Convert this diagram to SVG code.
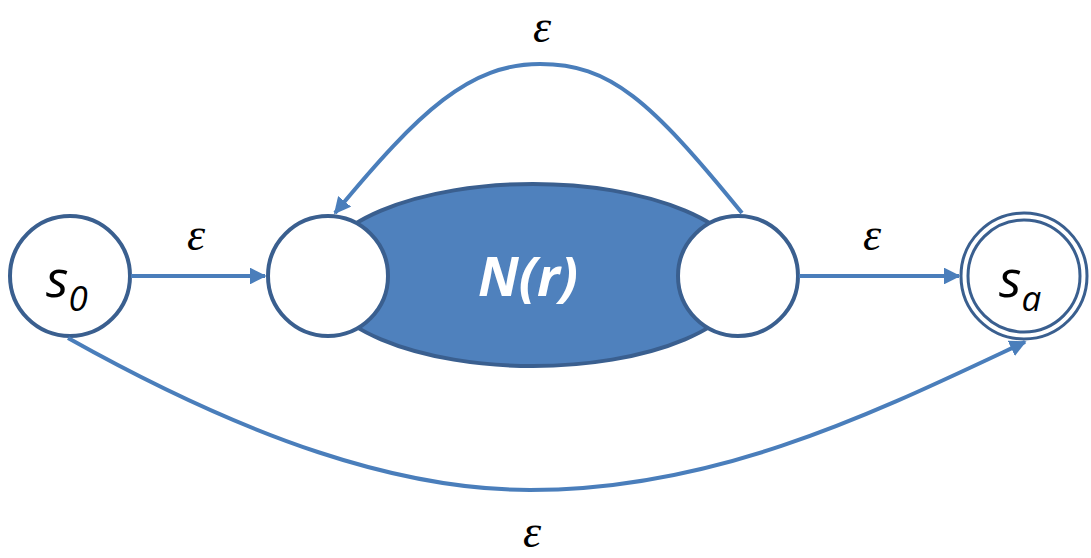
<svg xmlns="http://www.w3.org/2000/svg" width="1091" height="558" viewBox="0 0 1091 558">
<style>
.st{fill:#fff;stroke:#3A5F8F;stroke-width:4}
.ed{fill:none;stroke:#4A7EBB;stroke-width:4}
.eps{font-family:"Liberation Serif",serif;font-style:italic;font-size:46px;fill:#000;text-anchor:middle}
.lbl{font-family:"Open Sans","Noto Sans",sans-serif;font-style:italic;fill:#000}
</style>
<defs>
<marker id="ah" viewBox="0 0 10 10" refX="9" refY="5" markerWidth="4.2" markerHeight="4.2" orient="auto" markerUnits="strokeWidth">
<path d="M0,0 L10,5 L0,10 z" fill="#4A7EBB"/>
</marker>
</defs>
<rect width="1091" height="558" fill="#fff"/>
<g id="nr">
<ellipse cx="533" cy="275" rx="215" ry="91" fill="#4F81BD" stroke="#3A5F8F" stroke-width="4"/>
<text x="528" y="296" font-family="Open Sans,Noto Sans,sans-serif" font-style="italic" font-weight="bold" font-size="54" fill="#fff" text-anchor="middle">N(r)</text>
</g>
<g id="s0">
<circle class="st" cx="70" cy="276" r="60"/>
<text class="lbl" x="46" y="297" font-size="52">s<tspan font-size="35" dy="14">0</tspan></text>
</g>
<g id="q1">
<circle class="st" cx="328" cy="276" r="60"/>
</g>
<g id="q2">
<circle class="st" cx="738" cy="276" r="60"/>
</g>
<g id="sa">
<circle cx="1024" cy="276" r="63" fill="#fff" stroke="#3A5F8F" stroke-width="3"/>
<circle cx="1024" cy="276" r="56" fill="none" stroke="#3A5F8F" stroke-width="3"/>
<text class="lbl" x="999" y="297" font-size="52">s<tspan font-size="35" dy="14">a</tspan></text>
</g>
<g id="edges">
<path class="ed" d="M131,276 L265,276" marker-end="url(#ah)"/>
<path class="ed" d="M799,276 L959,276" marker-end="url(#ah)"/>
<path class="ed" d="M742,213 C650,100 610,64 540,64 C470,64 420,110 335,213" marker-end="url(#ah)"/>
<path class="ed" d="M68,338 C250,440 400,490 530,490 C720,490 880,410 1025,342" marker-end="url(#ah)"/>
<text class="eps" x="196" y="250">ε</text>
<text class="eps" x="872" y="250">ε</text>
<text class="eps" x="542" y="42">ε</text>
<text class="eps" x="532" y="547">ε</text>
</g>
</svg>
